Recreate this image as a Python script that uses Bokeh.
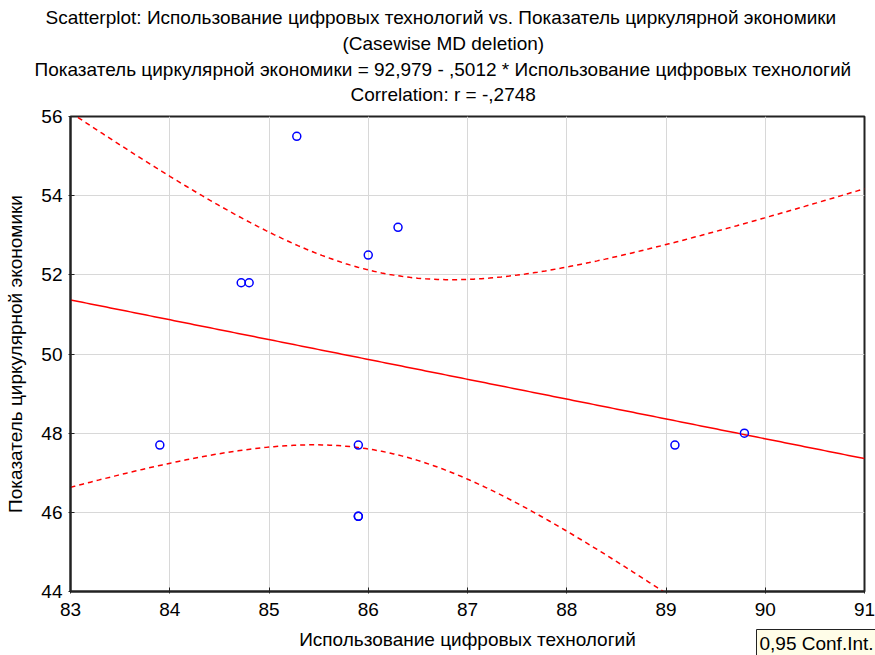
import numpy as np
from bokeh.plotting import figure
from bokeh.models import Title, Range1d, FixedTicker
from bokeh.embed import file_html
from bokeh.resources import INLINE

# ---- data ----
x_vals = [83.9, 84.72, 84.8, 85.28, 85.9, 85.9, 85.9, 86.0, 86.3, 89.09, 89.79]
y_vals = [47.7, 51.8, 51.8, 55.5, 47.7, 45.9, 45.9, 52.5, 53.2, 47.7, 48.0]
x_ticks = [83, 84, 85, 86, 87, 88, 89, 90, 91]
y_ticks = [44, 46, 48, 50, 52, 54, 56]
title_lines = [
    "Scatterplot: Использование цифровых технологий vs. Показатель циркулярной экономики",
    "(Casewise MD deletion)",
    "Показатель циркулярной экономики = 92,979 - ,5012  * Использование цифровых технологий",
    "Correlation: r = -,2748",
]
x_label = "Использование цифровых технологий"
y_label = "Показатель циркулярной экономики"
conf_text = "0,95 Conf.Int."
t_crit = 2.262  # t(0.975, df=9)

# ---- regression and 95% confidence band computed from the data ----
xa = np.array(x_vals)
ya = np.array(y_vals)
n = len(xa)
slope, intercept = np.polyfit(xa, ya, 1)
xbar = xa.mean()
sxx = ((xa - xbar) ** 2).sum()
resid = ya - (intercept + slope * xa)
s = np.sqrt((resid ** 2).sum() / (n - 2))
xg = np.linspace(x_ticks[0], x_ticks[-1], 200)
yg = intercept + slope * xg
hw = t_crit * s * np.sqrt(1.0 / n + (xg - xbar) ** 2 / sxx)

FONT = "Liberation Sans"
FS = "19px"

p = figure(width=875, height=655, output_backend="svg", toolbar_location=None,
           x_range=Range1d(83, 91), y_range=Range1d(44, 56),
           min_border_left=70, min_border_right=11, min_border_top=116, min_border_bottom=64)

# titles (left-aligned with pixel offsets so each line is centred on the page);
# the first one added sits closest to the frame
title_offsets = [-25, 272, -36, 280]
title_standoffs = [-20, 26, -20, 24]
for line, off, so in reversed(list(zip(title_lines, title_offsets, title_standoffs))):
    t = Title(text=line, align="left", offset=off, text_font=FONT, text_font_size=FS,
              text_font_style="normal", text_color="#000000", standoff=so)
    p.add_layout(t, "above")

p.outline_line_color = "#222222"
p.outline_line_width = 2
p.background_fill_color = "white"
p.border_fill_color = "white"

for ax in (p.xaxis[0], p.yaxis[0]):
    ax.axis_line_color = "#222222"
    ax.axis_line_width = 2
    ax.major_tick_in = 4
    ax.major_tick_out = 2
    ax.minor_tick_line_color = None
    ax.major_tick_line_color = "#222222"
    ax.major_label_text_font = FONT
    ax.major_label_text_font_size = FS
    ax.major_label_text_color = "#000000"
    ax.axis_label_text_font = FONT
    ax.axis_label_text_font_size = FS
    ax.axis_label_text_font_style = "normal"
    ax.axis_label_text_color = "#000000"

p.xaxis.ticker = FixedTicker(ticks=x_ticks)
p.yaxis.ticker = FixedTicker(ticks=y_ticks)
p.xaxis.axis_label = x_label
p.yaxis.axis_label = y_label
p.xaxis.major_label_standoff = 9
p.yaxis.major_label_standoff = 6
p.xaxis.axis_label_standoff = 10
p.yaxis.axis_label_standoff = 12

p.xgrid.grid_line_color = "#d8d8d8"
p.ygrid.grid_line_color = "#d8d8d8"

p.line(xg, yg, line_color="#ff0000", line_width=1.5)
p.line(xg, yg + hw, line_color="#ff0000", line_width=1.5, line_dash="5 4")
p.line(xg, yg - hw, line_color="#ff0000", line_width=1.5, line_dash="5 4")

p.scatter(x_vals, y_vals, marker="circle", size=8, fill_color=None,
          line_color="#0000ff", line_width=1.5)

conf = Title(text=conf_text, align="left", offset=686, standoff=-46, vertical_align="top",
             text_font=FONT, text_font_size=FS, text_font_style="normal",
             text_color="#000000", background_fill_color="#fffde8",
             border_line_color="#222222", border_line_width=1, padding=3)
p.add_layout(conf, "below")

open("out.html", "w").write(file_html(p, INLINE))
